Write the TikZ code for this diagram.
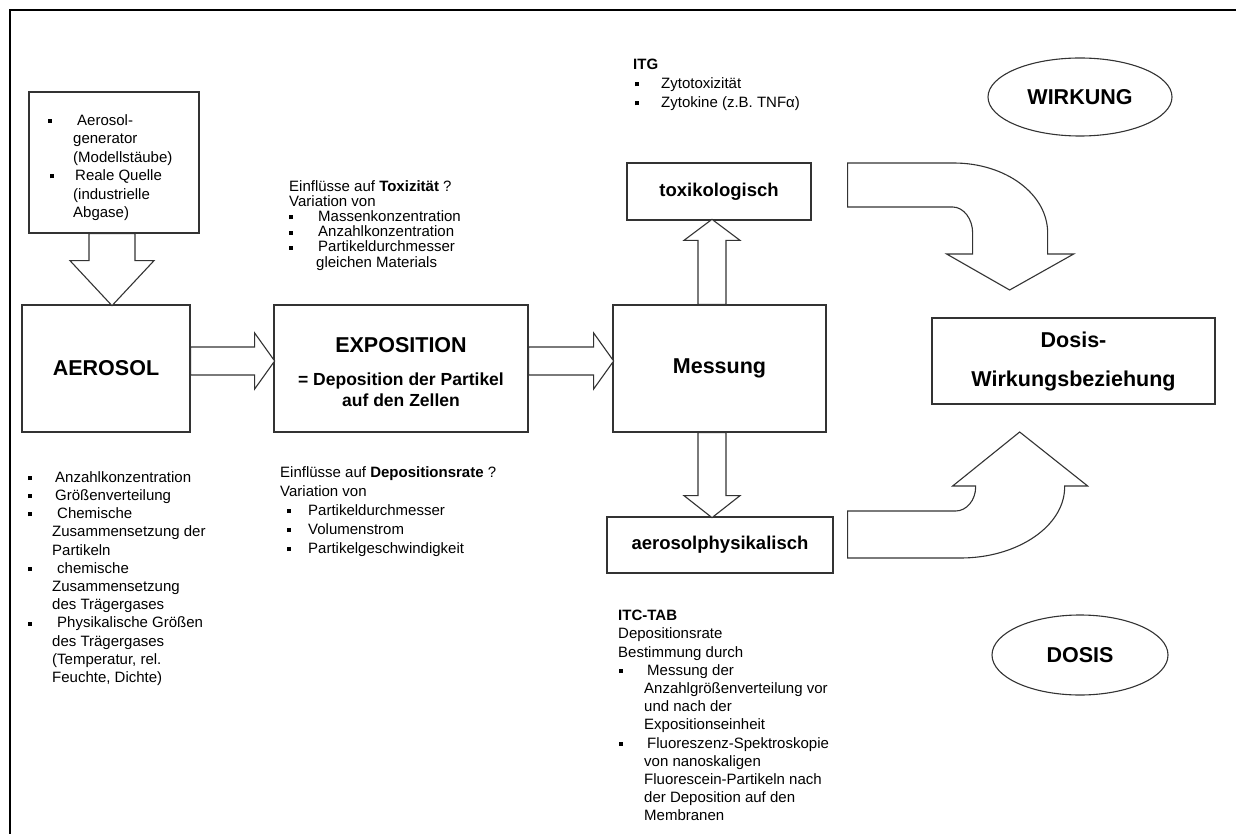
\documentclass[tikz,border=0pt]{standalone}
\usepackage{fontspec}
\setmainfont{Liberation Sans}
\usetikzlibrary{calc,shapes.geometric}
\newcommand\bsq{\rule[2.2pt]{4pt}{4pt}}
\newcommand\bl[1]{\makebox[#1pt][l]{\bsq}}
\newcommand\ind[1]{\hspace*{#1pt}}
\newcommand\tp{\rule{0pt}{12pt}}
\begin{document}
\begin{tikzpicture}[x=1pt,y=-1pt,
  box/.style={draw=black!80, line width=1.3pt, inner sep=0pt, rectangle, fill=white},
  barrow/.style={draw=black!80, line width=1.1pt, fill=white, line join=miter},
  big/.style={font=\fontsize{21.5}{25}\selectfont\bfseries},
  mid/.style={font=\fontsize{18.5}{22}\selectfont\bfseries},
  txt/.style={align=left, anchor=north west, inner sep=0pt},
  ell/.style={draw=black!80, line width=1.1pt, ellipse, inner sep=0pt},
]
\useasboundingbox (0,0) rectangle (1236,834);
\fill[white] (0,0) rectangle (1236,834);
% frame
\draw[line width=2.5pt, line join=miter] (10,840) -- (10,10) -- (1240,10);

% boxes
\node[box, minimum width=170pt, minimum height=141pt] (src) at (114,162.5) {};
\node[box, big, minimum width=168pt, minimum height=127pt] (aero) at (106,368.5) {AEROSOL};
\node[box, minimum width=254pt, minimum height=127pt] (expo) at (401,368.5) {};
\node[big] (expo1) at (401,345) {EXPOSITION};
\node[font=\fontsize{17.5}{21}\selectfont\bfseries, align=center] (expo2) at (401,390) {= Deposition der Partikel\\auf den Zellen};
\node[box, big, minimum width=213pt, minimum height=127pt] (mess) at (719.5,368.5) {Messung};
\node[box, mid, minimum width=184pt, minimum height=57pt] (toxi) at (719,191.5) {toxikologisch};
\node[box, mid, minimum width=226pt, minimum height=56pt] (aphys) at (720,545) {aerosolphysikalisch};
\node[box, font=\fontsize{21.5}{39}\selectfont\bfseries, align=center, minimum width=283pt, minimum height=86pt] (dwb) at (1073.5,361) {Dosis-\\Wirkungsbeziehung};
\node[ell, big, minimum width=184pt, minimum height=78pt] (wirk) at (1080,97) {WIRKUNG};
\node[ell, big, minimum width=176pt, minimum height=80pt] (dosis) at (1080,655) {DOSIS};

% block arrows
\draw[barrow] ($(src.south)+(-25,0)$) -- ++(0,27) -- ++(-19,0) -- ++(42,45) -- ++(42,-45) -- ++(-19,0) -- ++(0,-27) -- cycle;
\draw[barrow] ($(aero.east)+(0,-21.5)$) -- ++(64,0) -- ++(0,-14) -- ++(20,28) -- ++(-20,28) -- ++(0,-14) -- ++(-64,0) -- cycle;
\draw[barrow] ($(expo.east)+(0,-21.5)$) -- ++(65,0) -- ++(0,-14) -- ++(20,28) -- ++(-20,28) -- ++(0,-14) -- ++(-65,0) -- cycle;
\draw[barrow] ($(mess.north)+(-21.5,0)$) -- ++(0,-64) -- ++(-14,0) -- ++(28,-21) -- ++(28,21) -- ++(-14,0) -- ++(0,64) -- cycle;
\draw[barrow] ($(mess.south)+(-21.5,0)$) -- ++(0,63) -- ++(-14,0) -- ++(28,22) -- ++(28,-22) -- ++(-14,0) -- ++(0,-63) -- cycle;

% bent arrows
\begin{scope}[shift={($(toxi.east)+(36,-28.5)$)}]
\draw[barrow] (0,0) -- (106,0) .. controls (158,0) and (200,31) .. (200,70) -- (200,91) -- (226,91) -- (162,127) -- (99,91) -- (125,91) -- (125,70) .. controls (125,56) and (116,44) .. (105,44) -- (0,44) -- cycle;
\end{scope}
\begin{scope}[shift={($(aphys.east)+(14,-34)$)}]
\draw[barrow] (0,0) -- (108,0) .. controls (119,0) and (128,-11) .. (128,-24) -- (128,-25) -- (105,-25) -- (172,-79) -- (240,-25) -- (217,-25) -- (217,-24) .. controls (217,15) and (170,47) .. (113,47) -- (0,47) -- cycle;
\end{scope}

% texts
\node[txt, font=\fontsize{15}{18.5}\selectfont] (srctext) at (48,113) {\tp\bl{29}Aerosol-\\
\ind{25}generator\\
\ind{25}(Modellstäube)\\
\ind{2}\bl{25}Reale Quelle\\
\ind{25}(industrielle\\
\ind{25}Abgase)};

\node[txt, font=\fontsize{15}{18.2}\selectfont] (aerotext) at (28,470) {\tp\bl{27}Anzahlkonzentration\\
\bl{27}Größenverteilung\\
\bl{29}Chemische\\
\ind{24}Zusammensetzung der\\
\ind{24}Partikeln\\
\bl{29}chemische\\
\ind{24}Zusammensetzung\\
\ind{24}des Trägergases\\
\bl{29}Physikalische Größen\\
\ind{24}des Trägergases\\
\ind{24}(Temperatur, rel.\\
\ind{24}Feuchte, Dichte)};

\node[txt, font=\fontsize{15}{15.2}\selectfont] (toxtext) at (289,179) {\tp Einflüsse auf \textbf{Toxizität} ?\\
Variation von\\
\bl{29}Massenkonzentration\\
\bl{29}Anzahlkonzentration\\
\bl{29}Partikeldurchmesser\\
\ind{27}gleichen Materials};

\node[txt, font=\fontsize{15}{19}\selectfont] (deptext) at (280,465) {\tp Einflüsse auf \textbf{Depositionsrate} ?\\
Variation von\\
\ind{7}\bl{21}Partikeldurchmesser\\
\ind{7}\bl{21}Volumenstrom\\
\ind{7}\bl{21}Partikelgeschwindigkeit};

\node[txt, font=\fontsize{15}{19}\selectfont] (itgtext) at (633,57.5) {\tp\textbf{ITG}\\
\ind{2}\bl{26}Zytotoxizität\\
\ind{2}\bl{26}Zytokine (z.B. TNFα)};

\node[txt, font=\fontsize{15}{18.2}\selectfont] (itctext) at (618,608.5) {\tp\textbf{ITC-TAB}\\
Depositionsrate\\
Bestimmung durch\\
\ind{1}\bl{28}Messung der\\
\ind{26}Anzahlgrößenverteilung vor\\
\ind{26}und nach der\\
\ind{26}Expositionseinheit\\
\ind{1}\bl{28}Fluoreszenz-Spektroskopie\\
\ind{26}von nanoskaligen\\
\ind{26}Fluorescein-Partikeln nach\\
\ind{26}der Deposition auf den\\
\ind{26}Membranen};
\end{tikzpicture}
\end{document}
